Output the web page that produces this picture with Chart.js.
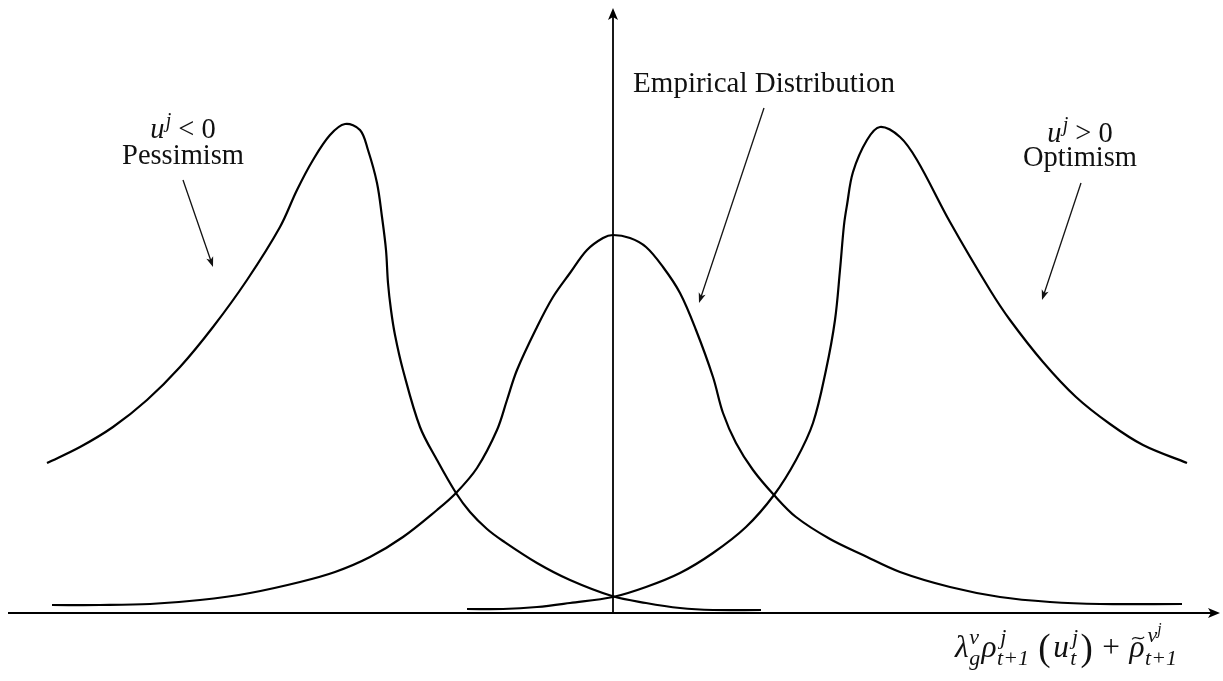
<!DOCTYPE html>
<html>
<head>
<meta charset="utf-8">
<script src="https://cdn.jsdelivr.net/npm/chart.js@4"></script>
<style>
html,body{margin:0;padding:0;background:#fff;}
canvas{display:block;}
</style>
</head>
<body>
<canvas id="c" width="1223" height="681"></canvas>
<script>
// ---- Data (x: horizontal position, 0 = vertical axis; y: density height) ----
const pessimismX = [-5.66,-5.33,-5.00,-4.66,-4.33,-4.00,-3.66,-3.33,-3.16,-3.00,-2.83,-2.68,-2.53,-2.45,-2.36,-2.31,-2.27,-2.25,-2.22,-2.18,-2.10,-1.93,-1.76,-1.57,-1.43,-1.26,-1.10,-0.76,-0.43,-0.01,0.33,0.67,1.00,1.48];
const pessimismY = [1.50,1.66,1.86,2.13,2.46,2.86,3.33,3.86,4.23,4.53,4.78,4.89,4.83,4.63,4.30,3.96,3.63,3.30,3.03,2.78,2.43,1.86,1.53,1.20,1.01,0.84,0.72,0.50,0.33,0.17,0.10,0.05,0.03,0.03];

const empiricalX = [-5.61,-5.13,-4.63,-4.13,-3.63,-3.13,-2.78,-2.43,-2.10,-1.76,-1.57,-1.36,-1.16,-1.06,-0.96,-0.76,-0.60,-0.43,-0.26,-0.10,0,0.17,0.33,0.50,0.67,0.83,1.00,1.10,1.23,1.40,1.61,1.83,2.17,2.50,2.87,3.37,3.87,4.37,4.87,5.69];
const empiricalY = [0.08,0.08,0.09,0.13,0.20,0.31,0.41,0.56,0.76,1.03,1.20,1.45,1.83,2.13,2.43,2.86,3.16,3.40,3.63,3.75,3.78,3.75,3.66,3.46,3.20,2.83,2.36,2.00,1.70,1.43,1.18,0.96,0.74,0.58,0.41,0.26,0.16,0.11,0.09,0.09];

const optimismX = [-1.46,-1.10,-0.76,-0.43,0,0.33,0.67,1.00,1.33,1.61,1.83,2.00,2.13,2.22,2.27,2.31,2.34,2.40,2.54,2.67,2.87,3.04,3.37,3.77,3.97,4.30,4.63,4.97,5.30,5.74];
const optimismY = [0.04,0.04,0.06,0.10,0.16,0.26,0.40,0.60,0.86,1.18,1.53,1.90,2.43,2.93,3.43,3.88,4.08,4.41,4.73,4.86,4.76,4.53,3.91,3.23,2.93,2.51,2.16,1.89,1.68,1.50];

// ---- Texts ----
const pessimismLabel = ['u', 'j', '<', '0', 'Pessimism'];
const optimismLabel = ['u', 'j', '>', '0', 'Optimism'];
const empiricalLabel = 'Empirical Distribution';

const zip = (xs, ys) => xs.map((x, i) => ({x: x, y: ys[i]}));

const FONT = 'Liberation Serif';
function fnt(sz, it) { return (it ? 'italic ' : '') + sz + 'px "' + FONT + '"'; }

// simple math-like text layout
function layoutMath(ctx, items, size, draw, x0, base) {
  let x = x0;
  for (const it of items) {
    if (it.t !== undefined) {
      const sz = size * (it.s || 1);
      ctx.font = fnt(sz, it.it);
      const w = ctx.measureText(it.t).width;
      const by = base - (it.dy || 0) * size;
      x += (it.lpad || 0) * size;
      if (draw) {
        ctx.fillText(it.t, x, by);
        if (it.tilde) {
          const cx = x + w * 0.58, ty = by - 0.6 * size;
          ctx.save();
          ctx.lineWidth = 1.2;
          ctx.beginPath();
          ctx.moveTo(cx - 0.19 * size, ty + 0.04 * size);
          ctx.bezierCurveTo(cx - 0.08 * size, ty - 0.13 * size, cx + 0.06 * size, ty + 0.13 * size, cx + 0.19 * size, ty - 0.04 * size);
          ctx.stroke();
          ctx.restore();
        }
      }
      x += w + (it.pad || 0) * size;
    } else {
      const xs = x + (it.lpad || 0) * size;
      let e1 = xs, e2 = xs;
      if (it.sup) e1 = layoutMath(ctx, it.sup, size, draw, xs + (it.supDx || 0) * size, base - (it.supDy || 0.42) * size);
      if (it.sub) e2 = layoutMath(ctx, it.sub, size, draw, xs, base + (it.subDy || 0.26) * size);
      x = Math.max(e1, e2) + (it.pad || 0) * size;
    }
  }
  return x;
}

const axisLabelItems = [
  {t: 'λ', it: true},
  {sup: [{t: 'ν', it: true, s: 0.7}], sub: [{t: 'g', it: true, s: 0.7}], lpad: 0.02, pad: 0.04},
  {t: 'ρ', it: true},
  {sup: [{t: 'j', it: true, s: 0.7}], sub: [{t: 't+1', it: true, s: 0.7}], supDx: 0.1, lpad: 0.02, pad: 0.3},
  {t: '(', s: 1.18, dy: -0.1, pad: 0.08},
  {t: 'u', it: true},
  {sup: [{t: 'j', it: true, s: 0.7}], sub: [{t: 't', it: true, s: 0.7}], lpad: 0.04, supDx: 0.06, pad: 0.08},
  {t: ')', s: 1.18, dy: -0.1},
  {t: '+', lpad: 0.3, pad: 0.3},
  {t: 'ρ', it: true, tilde: true},
  {sup: [{t: 'ν', it: true, s: 0.7}, {t: 'j', it: true, s: 0.5, dy: 0.25}], sub: [{t: 't+1', it: true, s: 0.7}], lpad: 0.02, supDx: 0.08, supDy: 0.48}
];

const annotations = {
  pess: {x: -4.30, y1: 4.75, y2: 4.49, arrow: [-4.30, 4.33, -4.00, 3.46]},
  opt: {x: 4.67, y1: 4.71, y2: 4.47, arrow: [4.68, 4.30, 4.29, 3.13]},
  emp: {x: 1.51, y: 5.21, arrow: [1.51, 5.05, 0.86, 3.10]},
  axisLabel: {x: 3.42, y: -0.44, width: 222}
};

function arrowHead(ctx, x1, y1, x2, y2, len, half) {
  const a = Math.atan2(y2 - y1, x2 - x1);
  ctx.beginPath();
  ctx.moveTo(x2, y2);
  ctx.lineTo(x2 - len * Math.cos(a) + half * Math.sin(a), y2 - len * Math.sin(a) - half * Math.cos(a));
  ctx.lineTo(x2 - len * 0.75 * Math.cos(a), y2 - len * 0.75 * Math.sin(a));
  ctx.lineTo(x2 - len * Math.cos(a) - half * Math.sin(a), y2 - len * Math.sin(a) + half * Math.cos(a));
  ctx.closePath();
  ctx.fill();
}

const decor = {
  id: 'decor',
  beforeDatasetsDraw(chart) {
    const ctx = chart.ctx, xs = chart.scales.x, ys = chart.scales.y;
    const X = v => xs.getPixelForValue(v), Y = v => ys.getPixelForValue(v);
    ctx.save();
    ctx.strokeStyle = '#000'; ctx.fillStyle = '#000';
    ctx.lineWidth = 1.8;
    const x0 = X(-6.05), x1 = X(6.07), y0 = Y(0);
    ctx.beginPath(); ctx.moveTo(x0, y0); ctx.lineTo(x1 - 6, y0); ctx.stroke();
    arrowHead(ctx, x0, y0, x1, y0, 12, 5);
    const yt = Y(6.05), xv = X(0);
    ctx.beginPath(); ctx.moveTo(xv, y0 + 1); ctx.lineTo(xv, yt + 6); ctx.stroke();
    arrowHead(ctx, xv, y0, xv, yt, 12, 5);
    ctx.restore();
  },
  afterDatasetsDraw(chart) {
    const ctx = chart.ctx, xs = chart.scales.x, ys = chart.scales.y;
    const X = v => xs.getPixelForValue(v), Y = v => ys.getPixelForValue(v);
    ctx.save();
    ctx.fillStyle = '#111'; ctx.strokeStyle = '#111';
    ctx.textBaseline = 'alphabetic';
    const S = 28.5;

    for (const k of ['pess', 'opt', 'emp']) {
      const a = annotations[k].arrow;
      const ax1 = X(a[0]), ay1 = Y(a[1]), ax2 = X(a[2]), ay2 = Y(a[3]);
      const ang = Math.atan2(ay2 - ay1, ax2 - ax1);
      ctx.lineWidth = 1.3;
      ctx.beginPath(); ctx.moveTo(ax1, ay1); ctx.lineTo(ax2 - 6 * Math.cos(ang), ay2 - 6 * Math.sin(ang)); ctx.stroke();
      arrowHead(ctx, ax1, ay1, ax2, ay2, 10, 3.6);
    }

    function sideLabel(lbl, ann) {
      const items = [{t: lbl[0], it: true}, {sup: [{t: lbl[1], it: true, s: 0.7}], supDy: 0.4, supDx: 0.04, pad: 0.25}, {t: lbl[2], pad: 0.25}, {t: lbl[3]}];
      const w = layoutMath(ctx, items, S, false, 0, 0);
      layoutMath(ctx, items, S, true, X(ann.x) - w / 2, Y(ann.y1));
      ctx.font = fnt(S, false);
      ctx.textAlign = 'center';
      ctx.fillText(lbl[4], X(ann.x), Y(ann.y2));
      ctx.textAlign = 'left';
    }
    sideLabel(pessimismLabel, annotations.pess);
    sideLabel(optimismLabel, annotations.opt);

    ctx.font = fnt(29, false);
    ctx.textAlign = 'center';
    ctx.fillText(empiricalLabel, X(annotations.emp.x), Y(annotations.emp.y));
    ctx.textAlign = 'left';

    const al = annotations.axisLabel;
    const wBase = layoutMath(ctx, axisLabelItems, S, false, 0, 0);
    const sz = S * al.width / wBase;
    layoutMath(ctx, axisLabelItems, sz, true, X(al.x), Y(al.y));
    ctx.restore();
  }
};

const lineStyle = {showLine: true, pointRadius: 0, borderColor: '#000', borderWidth: 2.2, tension: 0.35, fill: false};

new Chart(document.getElementById('c'), {
  type: 'scatter',
  data: {
    datasets: [
      Object.assign({label: 'Pessimism', data: zip(pessimismX, pessimismY)}, lineStyle),
      Object.assign({label: 'Empirical Distribution', data: zip(empiricalX, empiricalY)}, lineStyle),
      Object.assign({label: 'Optimism', data: zip(optimismX, optimismY)}, lineStyle)
    ]
  },
  options: {
    responsive: false,
    animation: false,
    layout: {padding: 0},
    plugins: {legend: {display: false}, tooltip: {enabled: false}, title: {display: false}},
    scales: {
      x: {type: 'linear', min: -6.13, max: 6.10, display: false},
      y: {type: 'linear', min: -0.68, max: 6.13, display: false}
    }
  },
  plugins: [decor]
});
</script>
</body>
</html>
